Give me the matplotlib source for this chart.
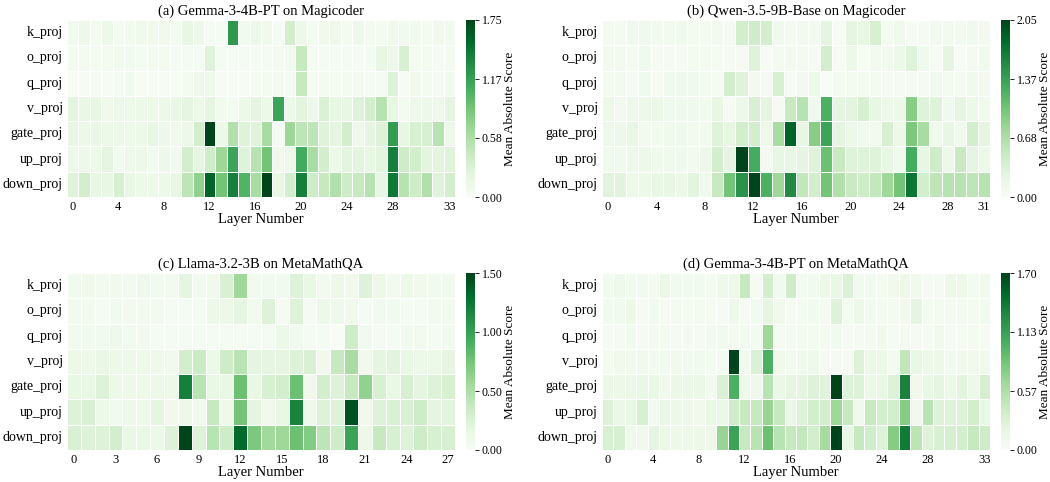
import numpy as np
import matplotlib
matplotlib.use("Agg")
import matplotlib.pyplot as plt
import seaborn as sns

plt.rcParams["font.family"] = ["Liberation Serif", "DejaVu Serif"]

modules = ["k_proj", "o_proj", "q_proj", "v_proj", "gate_proj", "up_proj", "down_proj"]

# (a) Gemma-3-4B-PT on Magicoder, 34 layers
gemma_code = [
    [0.07,0.11,0.05,0.14,0.05,0.07,0.09,0.09,0.09,0.05,0.18,0.11,0.04,0.04,1.23,0.07,0.14,0.09,0.04,0.35,0.12,0.05,0.09,0.11,0.05,0.11,0.05,0.05,0.09,0.07,0.07,0.05,0.09,0.07],
    [0.05,0.05,0.05,0.05,0.07,0.07,0.04,0.05,0.05,0.04,0.04,0.04,0.26,0.04,0.04,0.04,0.04,0.04,0.05,0.07,0.44,0.04,0.04,0.04,0.04,0.04,0.04,0.18,0.11,0.32,0.05,0.05,0.04,0.05],
    [0.02,0.02,0.05,0.02,0.04,0.07,0.02,0.02,0.02,0.02,0.05,0.11,0.11,0.02,0.02,0.02,0.05,0.05,0.05,0.04,0.44,0.04,0.05,0.04,0.05,0.05,0.04,0.04,0.28,0.02,0.09,0.05,0.04,0.07],
    [0.23,0.16,0.18,0.09,0.14,0.14,0.14,0.14,0.14,0.16,0.21,0.14,0.21,0.07,0.05,0.14,0.21,0.14,1.14,0.11,0.23,0.12,0.30,0.18,0.18,0.28,0.35,0.53,0.18,0.05,0.12,0.11,0.11,0.21],
    [0.19,0.14,0.16,0.14,0.14,0.14,0.12,0.18,0.12,0.09,0.12,0.35,1.75,0.14,0.56,0.26,0.26,0.61,0.04,0.67,0.49,0.49,0.26,0.21,0.35,0.11,0.21,0.28,1.19,0.18,0.32,0.32,0.53,0.11],
    [0.12,0.12,0.14,0.21,0.07,0.12,0.12,0.07,0.11,0.07,0.35,0.21,0.39,0.67,1.14,0.26,0.53,0.88,0.09,0.12,1.09,0.61,0.35,0.14,0.23,0.23,0.18,0.23,1.40,0.39,0.35,0.23,0.23,0.26],
    [0.26,0.35,0.18,0.18,0.32,0.18,0.14,0.14,0.14,0.18,0.49,0.74,1.58,0.88,1.40,1.02,0.61,1.75,0.18,0.35,1.40,0.39,0.44,0.56,0.39,0.44,0.53,0.18,1.44,0.53,0.39,0.56,0.26,0.35],
]

# (b) Qwen-3.5-9B-Base on Magicoder, 32 layers
qwen_code = [
    [0.06,0.06,0.10,0.10,0.08,0.08,0.12,0.06,0.06,0.08,0.04,0.41,0.45,0.41,0.10,0.06,0.08,0.08,0.25,0.02,0.25,0.21,0.37,0.06,0.12,0.04,0.04,0.08,0.08,0.08,0.10,0.08],
    [0.08,0.08,0.06,0.10,0.04,0.04,0.04,0.06,0.06,0.04,0.04,0.04,0.31,0.02,0.06,0.08,0.06,0.04,0.41,0.04,0.16,0.02,0.08,0.08,0.16,0.31,0.10,0.04,0.25,0.02,0.06,0.12],
    [0.06,0.08,0.04,0.10,0.04,0.10,0.10,0.10,0.06,0.04,0.41,0.31,0.08,0.04,0.37,0.02,0.08,0.16,0.00,0.06,0.06,0.06,0.06,0.04,0.04,0.04,0.04,0.10,0.06,0.06,0.12,0.08],
    [0.16,0.08,0.14,0.14,0.18,0.10,0.10,0.10,0.08,0.21,0.04,0.14,0.37,0.25,0.04,0.51,0.62,0.10,1.23,0.25,0.27,0.37,0.21,0.14,0.16,0.92,0.31,0.31,0.10,0.25,0.16,0.12],
    [0.14,0.14,0.21,0.08,0.08,0.12,0.12,0.08,0.08,0.31,0.21,0.41,0.41,0.14,0.72,1.85,0.21,0.92,1.33,0.25,0.16,0.10,0.08,0.37,0.16,0.98,0.72,0.12,0.21,0.10,0.41,0.25],
    [0.12,0.12,0.14,0.14,0.12,0.10,0.10,0.08,0.14,0.41,0.25,2.05,1.27,0.06,0.21,0.21,0.25,0.31,1.07,0.51,0.31,0.31,0.31,0.21,0.12,1.27,0.21,0.45,0.16,0.51,0.25,0.16],
    [0.29,0.29,0.16,0.16,0.21,0.21,0.16,0.27,0.10,0.51,1.03,1.48,2.05,1.23,0.78,1.54,0.55,0.41,1.03,0.66,0.49,0.45,0.53,0.78,1.03,1.70,0.41,0.57,0.62,0.62,0.57,0.62],
]

# (c) Llama-3.2-3B on MetaMathQA, 28 layers
llama_math = [
    [0.06,0.08,0.05,0.08,0.05,0.09,0.06,0.05,0.18,0.05,0.08,0.26,0.57,0.05,0.06,0.06,0.23,0.15,0.05,0.11,0.08,0.23,0.11,0.05,0.12,0.08,0.06,0.05],
    [0.05,0.05,0.03,0.06,0.05,0.05,0.05,0.03,0.03,0.03,0.11,0.11,0.18,0.05,0.23,0.02,0.23,0.02,0.12,0.09,0.08,0.03,0.06,0.06,0.03,0.03,0.05,0.05],
    [0.05,0.06,0.06,0.09,0.06,0.05,0.03,0.03,0.03,0.03,0.03,0.03,0.02,0.03,0.03,0.12,0.06,0.03,0.03,0.00,0.33,0.06,0.02,0.03,0.06,0.05,0.03,0.05],
    [0.11,0.11,0.14,0.12,0.12,0.12,0.09,0.08,0.30,0.35,0.12,0.33,0.45,0.18,0.18,0.18,0.23,0.26,0.08,0.38,0.53,0.08,0.18,0.20,0.15,0.12,0.12,0.18],
    [0.15,0.15,0.23,0.12,0.11,0.12,0.12,0.11,1.20,0.45,0.15,0.15,0.78,0.15,0.27,0.30,0.78,0.08,0.30,0.23,0.38,0.63,0.27,0.15,0.27,0.18,0.23,0.27],
    [0.23,0.26,0.12,0.06,0.12,0.12,0.18,0.08,0.11,0.08,0.38,0.09,0.75,0.18,0.08,0.15,1.17,0.09,0.23,0.23,1.43,0.08,0.23,0.26,0.26,0.33,0.18,0.20],
    [0.26,0.23,0.23,0.30,0.15,0.15,0.12,0.23,1.50,0.23,0.45,0.33,1.32,0.71,0.56,0.57,0.78,0.68,0.42,0.33,0.98,0.11,0.38,0.27,0.23,0.33,0.27,0.27],
]

# (d) Gemma-3-4B-PT on MetaMathQA, 34 layers
gemma_math = [
    [0.07,0.10,0.07,0.07,0.05,0.14,0.07,0.07,0.07,0.05,0.10,0.12,0.43,0.03,0.34,0.07,0.37,0.05,0.07,0.12,0.17,0.29,0.07,0.07,0.05,0.09,0.12,0.09,0.03,0.03,0.12,0.12,0.05,0.09],
    [0.07,0.07,0.12,0.03,0.07,0.03,0.05,0.05,0.05,0.03,0.03,0.10,0.02,0.07,0.20,0.09,0.03,0.05,0.07,0.05,0.27,0.05,0.12,0.07,0.05,0.05,0.09,0.20,0.05,0.05,0.05,0.05,0.05,0.07],
    [0.03,0.03,0.07,0.03,0.05,0.05,0.03,0.05,0.03,0.07,0.07,0.05,0.07,0.05,0.65,0.03,0.05,0.05,0.05,0.05,0.07,0.03,0.03,0.05,0.09,0.03,0.05,0.03,0.03,0.09,0.03,0.03,0.05,0.03],
    [0.05,0.09,0.09,0.09,0.07,0.07,0.09,0.07,0.07,0.05,0.05,1.70,0.07,0.29,1.02,0.09,0.07,0.09,0.10,0.03,0.03,0.03,0.26,0.14,0.14,0.05,0.46,0.17,0.12,0.12,0.07,0.09,0.09,0.09],
    [0.14,0.12,0.14,0.17,0.17,0.09,0.14,0.14,0.14,0.05,0.29,1.02,0.10,0.10,0.51,0.14,0.20,0.20,0.27,0.24,1.70,0.26,0.26,0.15,0.17,0.26,1.33,0.09,0.17,0.20,0.15,0.22,0.12,0.32],
    [0.26,0.14,0.17,0.31,0.07,0.17,0.12,0.12,0.09,0.17,0.14,0.37,0.43,0.43,0.68,0.43,0.14,0.26,0.34,0.34,0.65,0.43,0.09,0.43,0.34,0.34,0.77,0.09,0.51,0.26,0.26,0.26,0.34,0.17],
    [0.31,0.31,0.10,0.09,0.20,0.14,0.12,0.12,0.12,0.12,0.68,1.11,0.43,0.51,0.88,0.51,0.43,0.44,0.34,0.61,1.70,0.17,0.43,0.36,0.26,0.77,1.39,0.49,0.26,0.31,0.32,0.34,0.43,0.37],
]

panels = [
    ("(a) Gemma-3-4B-PT on Magicoder", gemma_code, 1.75, [0, 4, 8, 12, 16, 20, 24, 28, 33]),
    ("(b) Qwen-3.5-9B-Base on Magicoder", qwen_code, 2.05, [0, 4, 8, 12, 16, 20, 24, 28, 31]),
    ("(c) Llama-3.2-3B on MetaMathQA", llama_math, 1.50, [0, 3, 6, 9, 12, 15, 18, 21, 24, 27]),
    ("(d) Gemma-3-4B-PT on MetaMathQA", gemma_math, 1.70, [0, 4, 8, 12, 16, 20, 24, 28, 33]),
]

W, H = 1050, 482
fig = plt.figure(figsize=(10.5, 4.82), dpi=100)

# pixel boxes: heatmap left, right, top, bottom ; colorbar left
boxes = [
    (67, 455, 20, 197, 466),
    (602, 990, 20, 197, 1001),
    (67, 455, 273, 450, 466),
    (602, 990, 273, 450, 1001),
]

for (title, vals, vmax, ticks), (l, r, t, b, cl) in zip(panels, boxes):
    ax = fig.add_axes([l / W, 1 - b / H, (r - l) / W, (b - t) / H])
    cax = fig.add_axes([cl / W, 1 - b / H, 9 / W, (b - t) / H])
    data = np.array(vals)
    sns.heatmap(data, ax=ax, cbar_ax=cax, cmap="Greens", vmin=0, vmax=vmax,
                linewidths=0.5, linecolor="white")
    ax.set_xticks(np.array(ticks) + 0.5)
    ax.set_xticklabels([str(x) for x in ticks], rotation=0, fontsize=9)
    ax.set_yticks(np.arange(len(modules)) + 0.5)
    ax.set_yticklabels(modules, rotation=0, fontsize=10)
    ax.tick_params(length=0, pad=3)
    ax.set_xlabel("Layer Number", fontsize=10.5, labelpad=0)
    ax.set_title(title, fontsize=10.5, pad=4)
    cticks = [0, vmax / 3, 2 * vmax / 3, vmax]
    cax.set_yticks(cticks)
    cax.set_yticklabels(["%.2f" % c for c in cticks], fontsize=8.5)
    cax.tick_params(length=3, width=0.6, pad=2)
    cax.set_ylabel("Mean Absolute Score", fontsize=9.5, labelpad=1)

fig.savefig("out.png", dpi=100)
